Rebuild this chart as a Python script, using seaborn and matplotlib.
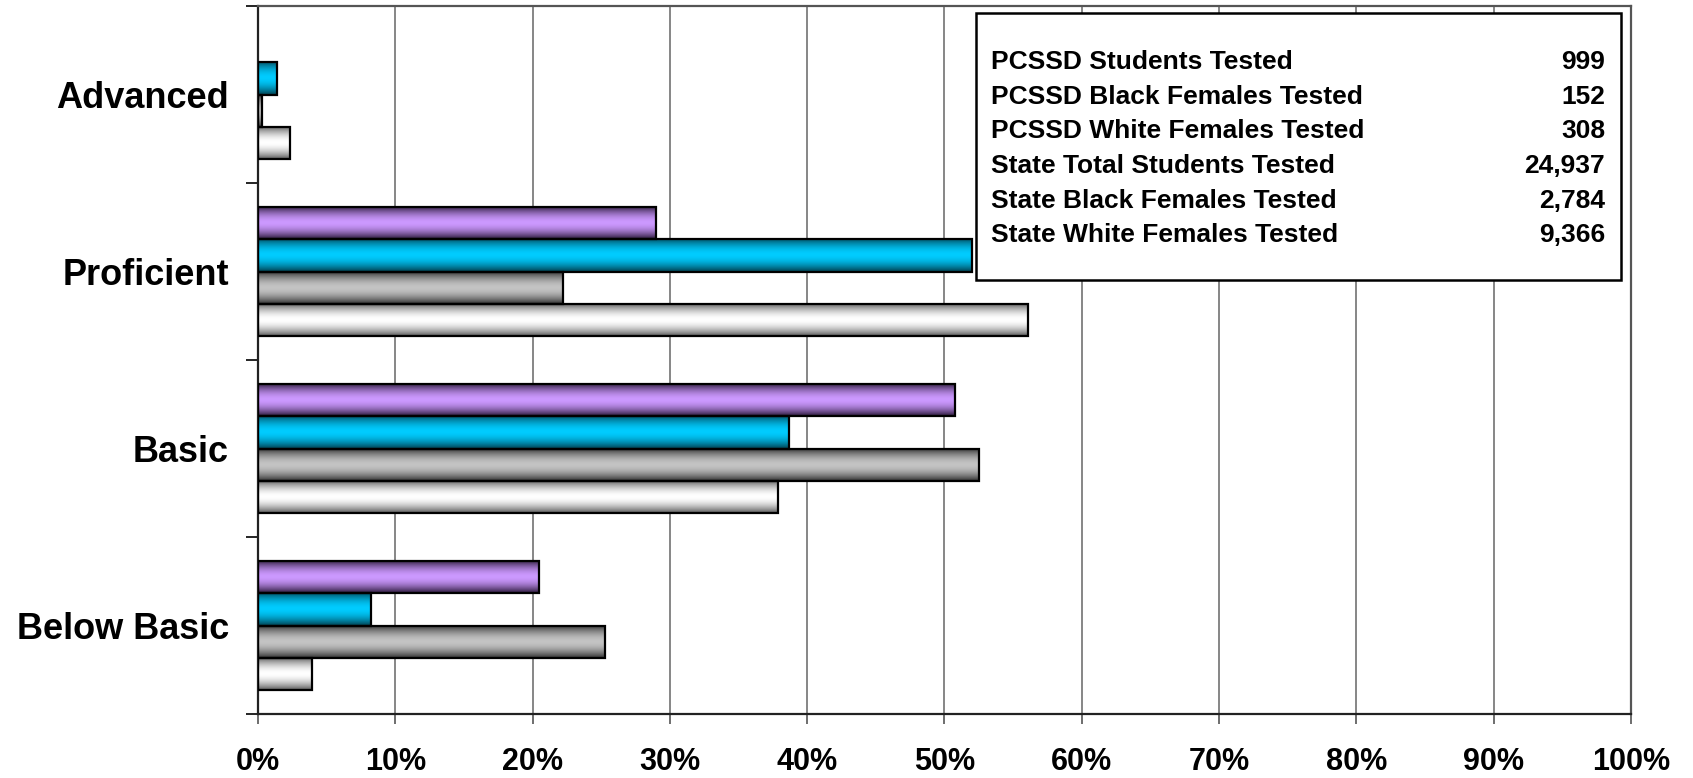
import numpy as np
import pandas as pd
import matplotlib
matplotlib.use("Agg")
import matplotlib.pyplot as plt
import matplotlib.colors as mcolors
from matplotlib.patches import Rectangle
import seaborn as sns

sns.set_style("white")
plt.rcParams["font.family"] = ["Liberation Sans", "DejaVu Sans"]
plt.rcParams["text.color"] = "black"
plt.rcParams["xtick.color"] = "black"
plt.rcParams["ytick.color"] = "black"

# data (percent of students)
levels = ["Advanced", "Proficient", "Basic", "Below Basic"]
series = ["PCSSD Black Females", "PCSSD White Females", "State Black Females", "State White Females"]
black_pcssd = [0.0, 29.0, 50.8, 20.5]
white_pcssd = [1.4, 52.0, 38.7, 8.2]
black_state = [0.3, 22.2, 52.5, 25.3]
white_state = [2.3, 56.1, 37.9, 3.9]

table_labels = ["PCSSD Students Tested", "PCSSD Black Females Tested", "PCSSD White Females Tested",
                "State Total Students Tested", "State Black Females Tested", "State White Females Tested"]
table_values = ["999", "152", "308", "24,937", "2,784", "9,366"]

# bar shading: (centre colour, edge colour)
shades = [("#CC99FF", "#2A1838"), ("#00CCFF", "#004A5C"), ("#C4C4C4", "#303030"), ("#FFFFFF", "#5A5A5A")]

rows = []
for name, vals in zip(series, [black_pcssd, white_pcssd, black_state, white_state]):
    for lev, v in zip(levels, vals):
        rows.append({"level": lev, "series": name, "pct": v})
df = pd.DataFrame(rows)

fig = plt.figure(figsize=(16.93, 7.78), dpi=100)
ax = fig.add_axes([258 / 1693, 1 - 714 / 778, (1631 - 258) / 1693, (714 - 6) / 778])

sns.barplot(data=df, y="level", x="pct", hue="series", hue_order=series, order=levels,
            orient="h", width=0.73, palette=[s[0] for s in shades], ax=ax, legend=False,
            errorbar=None, saturation=1)

# replace flat fills with a horizontal-stripe gradient (dark edges, light middle)
n = 64
t = np.abs(np.linspace(-1, 1, n))
w = t ** 1.8
for i, cont in enumerate(ax.containers):
    c_mid = np.array(mcolors.to_rgb(shades[i][0]))
    c_edge = np.array(mcolors.to_rgb(shades[i][1]))
    grad = (c_mid[None, :] * (1 - w[:, None]) + c_edge[None, :] * w[:, None])[:, None, :]
    for p in cont.patches:
        x0, y0 = p.get_x(), p.get_y()
        bw, bh = p.get_width(), p.get_height()
        p.set_facecolor("none")
        p.set_edgecolor("black")
        p.set_linewidth(1.6)
        p.set_zorder(3)
        if bw <= 0:
            p.set_visible(False)
            continue
        ax.imshow(grad, extent=[x0, x0 + bw, y0 + bh, y0], aspect="auto",
                  interpolation="bilinear", zorder=2)

ax.set_xlim(0, 100)
ax.set_ylim(3.5, -0.5)
ax.set_xticks(np.arange(0, 101, 10))
ax.set_xticklabels([f"{v}%" for v in range(0, 101, 10)], fontsize=22, fontweight="bold")
ax.set_yticks(np.arange(-0.5, 4, 1))
ax.set_yticklabels([])
ax.set_yticks(range(len(levels)), minor=True)
ax.set_yticklabels(levels, minor=True, fontsize=26, fontweight="bold")
ax.tick_params(axis="y", which="minor", length=0, pad=21)
ax.tick_params(axis="y", which="major", length=9, width=1.2, direction="out", left=True, color="black")
ax.tick_params(axis="x", length=7, width=1.2, direction="out", bottom=True, pad=17, color="#555555")
ax.xaxis.grid(True, color="#666666", linewidth=1.1, zorder=0)
ax.set_axisbelow(True)
ax.set_xlabel("")
ax.set_ylabel("")
for side in ["top", "right"]:
    ax.spines[side].set_color("#555555")
    ax.spines[side].set_linewidth(1.6)
for side in ["left", "bottom"]:
    ax.spines[side].set_color("#222222")
    ax.spines[side].set_linewidth(1.6)

# table of tested counts in the upper right
bx0, bx1 = 976 / 1693, 1621 / 1693
by0, by1 = 1 - 280 / 778, 1 - 13 / 778
fig.patches.append(Rectangle((bx0, by0), bx1 - bx0, by1 - by0, transform=fig.transFigure,
                             facecolor="white", edgecolor="black", linewidth=1.8, zorder=5))
row_y = [62, 97, 131, 166, 201, 235]
for lab, val, yy in zip(table_labels, table_values, row_y):
    fig.text(991 / 1693, 1 - yy / 778, lab, fontsize=19, fontweight="bold", va="center", ha="left", zorder=6)
    fig.text(1605 / 1693, 1 - yy / 778, val, fontsize=19, fontweight="bold", va="center", ha="right", zorder=6)

fig.savefig("out.png", dpi=100)
